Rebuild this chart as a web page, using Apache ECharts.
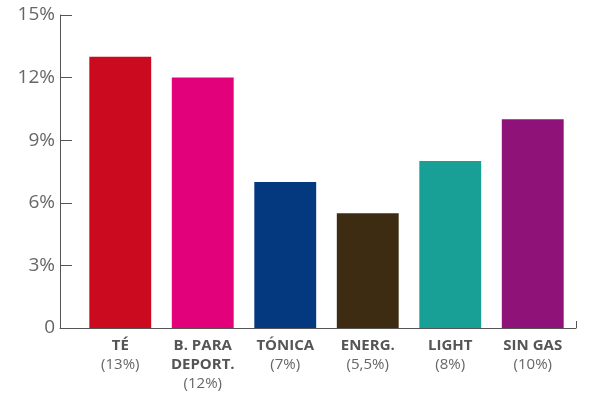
<!DOCTYPE html>
<html>
<head>
<meta charset="utf-8">
<script src="https://cdn.jsdelivr.net/npm/echarts@6/dist/echarts.min.js"></script>
<style>
	html, body { margin: 0; padding: 0; background: #fff; }
	#chart { width: 600px; height: 397px; }
</style>
</head>
<body>
<div id="chart"></div>
<script>
	// nombres de categoria y su porcentaje
	var categorias = ['TÉ', 'B. PARA\nDEPORT.', 'TÓNICA', 'ENERG.', 'LIGHT', 'SIN GAS'];
	var etiquetas = ['(13%)', '(12%)', '(7%)', '(5,5%)', '(8%)', '(10%)'];
	var valores = [13, 12, 7, 5.5, 8, 10];
	var colores = ['#cc0a1f', '#e2007b', '#04387f', '#3d2b12', '#18a096', '#8f1279'];
	var yTicks = [0, 3, 6, 9, 12, 15];

	var chart = echarts.init( document.getElementById( 'chart' ) );

	var fuente = '"Open Sans", "Noto Sans", sans-serif';

	var option = {
		animation: false,
		grid: [
			// grid del eje (lineas)
			{ left: 60, right: 24, top: 15, bottom: 69 },
			// grid de las barras
			{ left: 79, right: 26, top: 15, bottom: 69 }
		],
		xAxis: [
			{
				gridIndex: 0,
				type: 'value',
				min: 0,
				max: 1,
				interval: 1,
				axisLine: { show: true, lineStyle: { color: '#555', width: 1 } },
				axisTick: { show: true, inside: true, length: 7, lineStyle: { color: '#555' } },
				axisLabel: { show: false },
				splitLine: { show: false }
			},
			{
				gridIndex: 1,
				type: 'category',
				data: categorias,
				axisLine: { show: false },
				axisTick: { show: false },
				axisLabel: {
					margin: 8,
					interval: 0,
					fontFamily: fuente,
					formatter: function(v, i){
						return '{c|' + v + '}\n{p|' + etiquetas[i] + '}';
					},
					rich: {
						c: { fontFamily: fuente, fontSize: 15, fontWeight: 'bold', color: '#555', lineHeight: 19 },
						p: { fontFamily: fuente, fontSize: 15, color: '#666', lineHeight: 19 }
					}
				}
			}
		],
		yAxis: [
			{
				gridIndex: 0,
				type: 'value',
				min: 0,
				max: 15,
				interval: 3,
				axisLine: { show: true, lineStyle: { color: '#555', width: 1 } },
				axisTick: { show: true, inside: true, length: 12, lineStyle: { color: '#555' } },
				axisLabel: {
					margin: 5,
					fontFamily: fuente,
					fontSize: 19,
					color: '#666',
					formatter: function(v){
						return yTicks.indexOf( v ) === 0 ? '0' : v + '%';
					}
				},
				splitLine: { show: false }
			},
			{
				gridIndex: 1,
				type: 'value',
				min: 0,
				max: 15,
				interval: 3,
				show: false
			}
		],
		series: [
			{
				type: 'bar',
				xAxisIndex: 1,
				yAxisIndex: 1,
				barCategoryGap: '25%',
				data: valores.map( function(v, i){
					return { value: v, itemStyle: { color: colores[i] } };
				} )
			}
		]
	};

	chart.setOption( option );
</script>
</body>
</html>
